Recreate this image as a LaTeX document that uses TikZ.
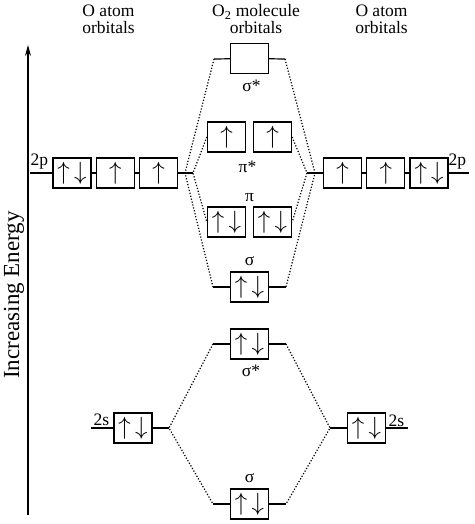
\documentclass[tikz,border=0pt]{standalone}
\usepackage{fontspec}
\setmainfont{Liberation Serif}
\usetikzlibrary{positioning}
\usetikzlibrary{arrows.meta}

\newcommand{\arru}{$\uparrow$}
\newcommand{\arrud}{$\uparrow\mkern3mu\downarrow$}

\tikzset{
  orb/.style={draw, line width=1.3pt, minimum width=38pt, minimum height=30pt, inner sep=0pt, font=\fontsize{24}{24}\selectfont},
  nivel/.style={line width=1.2pt},
  corr/.style={line width=1.2pt, dash pattern=on 1.2pt off 1.8pt},
  etiq/.style={inner sep=0.5pt, font=\fontsize{17.5}{17}\selectfont},
}

\begin{document}
\begin{tikzpicture}[x=1pt, y=-1pt]
        \useasboundingbox (0,0) rectangle (474,524);

        % Encabezados
        \node[etiq, align=center] (hizq) at (108.5,19) {O atom\\orbitals};
        \node[etiq, align=center] (hmol) at (256,19) {O\textsubscript{2} molecule\\orbitals};
        \node[etiq, align=center] (hder) at (381.5,19) {O atom\\orbitals};

        % Eje de energia
        \coordinate (e0) at (28,515);
        \coordinate (e1) at (28,45);
        \draw[-{Stealth[length=11pt, width=6pt]}, line width=1.2pt] (e0) -- (e1);
        \node[etiq, rotate=90, font=\fontsize{23}{23}\selectfont] (ener) at (14,295) {Increasing Energy};

        % Orbitales 2p del atomo izquierdo
        \node[orb] (pL1) at (72,173) {\arrud};
        \node[orb, right=4pt of pL1] (pL2) {\arru};
        \node[orb, right=4pt of pL2] (pL3) {\arru};
        \coordinate (pLa) at (30,173);
        \coordinate (pLs) at (185,173);
        \coordinate (pLp) at (193,173);
        \draw[nivel] (pLa) -- (pL1) (pL1) -- (pL2) (pL2) -- (pL3) (pL3) -- (pLp);
        \node[etiq, anchor=base west] (t2pL) at (30,165) {2p};

        % Orbitales 2p del atomo derecho
        \node[orb] (pR1) at (342.5,173) {\arru};
        \node[orb, right=4pt of pR1] (pR2) {\arru};
        \node[orb, right=4pt of pR2] (pR3) {\arrud};
        \coordinate (pRa) at (469,173);
        \coordinate (pRs) at (315,173);
        \coordinate (pRp) at (307,173);
        \draw[nivel] (pRp) -- (pR1) (pR1) -- (pR2) (pR2) -- (pR3) (pR3) -- (pRa);
        \node[etiq, anchor=base west] (t2pR) at (448,165) {2p};

        % Orbitales moleculares 2p
        \node[orb] (sas) at (249.5,58.5) {};
        \coordinate (sasL) at (214,59);
        \coordinate (sasR) at (285,59);
        \draw[nivel] (sasL) -- (sas) -- (sasR);
        \node[etiq, anchor=base] (tsas) at (251.5,92) {σ*};

        \node[orb] (pas1) at (226.5,137) {\arru};
        \node[orb] (pas2) at (272.5,137) {\arru};
        \node[etiq, anchor=base] (tpas) at (247.5,172) {π*};

        \node[orb] (pb1) at (226.5,222) {\arrud};
        \node[orb] (pb2) at (272.5,222) {\arrud};
        \node[etiq, anchor=base] (tpb) at (249.5,201) {π};

        \node[orb] (sb) at (249.5,287) {\arrud};
        \coordinate (sbL) at (213,287);
        \coordinate (sbR) at (286,287);
        \draw[nivel] (sbL) -- (sb) -- (sbR);
        \node[etiq, anchor=base] (tsb) at (249.5,265.5) {σ};

        % Orbitales 2s de los atomos
        \node[orb] (sL) at (133,428) {\arrud};
        \coordinate (sLa) at (91,428);
        \coordinate (sLr) at (169,428);
        \draw[nivel] (sLa) -- (sL) -- (sLr);
        \node[etiq, anchor=base west] (t2sL) at (93,425) {2s};

        \node[orb] (sR) at (366.5,428) {\arrud};
        \coordinate (sRl) at (330,428);
        \coordinate (sRa) at (408,428);
        \draw[nivel] (sRl) -- (sR) -- (sRa);
        \node[etiq, anchor=base west] (t2sR) at (388,426) {2s};

        % Orbitales moleculares 2s
        \node[orb] (ssa) at (249.5,344) {\arrud};
        \coordinate (ssaL) at (213,344);
        \coordinate (ssaR) at (286,344);
        \draw[nivel] (ssaL) -- (ssa) -- (ssaR);
        \node[etiq, anchor=base] (tssa) at (251,376) {σ*};

        \node[orb] (ssb) at (249.5,504) {\arrud};
        \coordinate (ssbL) at (213,504);
        \coordinate (ssbR) at (286,504);
        \draw[nivel] (ssbL) -- (ssb) -- (ssbR);
        \node[etiq, anchor=base] (tssb) at (249.5,482) {σ};

        % Correlaciones
        \draw[corr] (sasL) -- (pLs) -- (sbL);
        \draw[corr] (sasR) -- (pRs) -- (sbR);
        \draw[corr] (pas1.west) -- (pLp) -- (pb1.west);
        \draw[corr] (pas2.east) -- (pRp) -- (pb2.east);
        \draw[corr] (ssaL) -- (sLr) -- (ssbL);
        \draw[corr] (ssaR) -- (sRl) -- (ssbR);
    \end{tikzpicture}
\end{document}
